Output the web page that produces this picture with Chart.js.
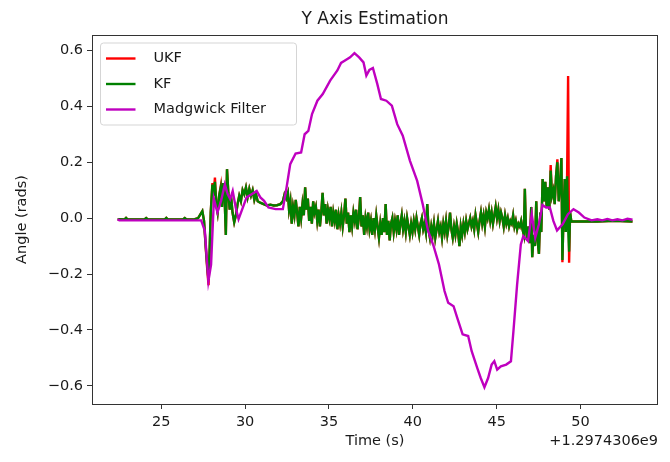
<!DOCTYPE html>
<html>
<head>
<meta charset="utf-8">
<script src="https://cdn.jsdelivr.net/npm/chart.js@4.4.1/dist/chart.umd.min.js"></script>
<style>
  html, body { margin: 0; padding: 0; background: #fff; }
  canvas { display: block; }
</style>
</head>
<body>
<canvas id="yAxisChart" width="670" height="462"></canvas>
<script>
// time stamps shared by the UKF and KF estimates (seconds, offset +1.2974306e9)
const filterTime = [
  22.40, 22.80, 22.90, 23.00, 24.00, 24.10, 24.20, 25.20, 25.30, 25.40,
  26.30, 26.40, 26.50, 27.00, 27.20, 27.35, 27.45, 27.55, 27.65, 27.75,
  27.82, 27.88, 27.95, 28.05, 28.12, 28.20, 28.28, 28.36, 28.45, 28.55,
  28.62, 28.70, 28.78, 28.85, 28.92, 29.00, 29.08, 29.16, 29.25, 29.35,
  29.45, 29.55, 29.65, 29.75, 29.85, 29.95, 30.05, 30.15, 30.25, 30.35,
  30.45, 30.55, 30.65, 30.75, 30.90, 31.10, 31.30, 31.50, 31.70, 31.90,
  32.10, 32.25, 32.35, 32.45, 32.55, 32.62, 32.70, 32.78, 32.86, 32.94,
  33.02, 33.10, 33.18, 33.26, 33.34, 33.42, 33.50, 33.58, 33.66, 33.74,
  33.82, 33.90, 33.98, 34.06, 34.14, 34.22, 34.30, 34.38, 34.46, 34.54,
  34.62, 34.70, 34.78, 34.86, 34.94, 35.02, 35.10, 35.18, 35.26, 35.34,
  35.42, 35.50, 35.58, 35.66, 35.74, 35.82, 35.90, 35.98, 36.06, 36.14,
  36.22, 36.30, 36.38, 36.46, 36.54, 36.62, 36.70, 36.78, 36.86, 36.94,
  37.02, 37.10, 37.18, 37.26, 37.34, 37.42, 37.50, 37.58, 37.66, 37.74,
  37.82, 37.90, 37.98, 38.06, 38.14, 38.22, 38.30, 38.38, 38.46, 38.54,
  38.62, 38.70, 38.78, 38.86, 38.94, 39.02, 39.10, 39.18, 39.26, 39.34,
  39.42, 39.50, 39.58, 39.66, 39.74, 39.82, 39.90, 39.98, 40.06, 40.14,
  40.22, 40.30, 40.38, 40.46, 40.54, 40.62, 40.70, 40.78, 40.86, 40.94,
  41.02, 41.10, 41.18, 41.26, 41.34, 41.42, 41.50, 41.58, 41.66, 41.74,
  41.82, 41.90, 41.98, 42.06, 42.14, 42.22, 42.30, 42.38, 42.46, 42.54,
  42.62, 42.70, 42.78, 42.86, 42.94, 43.02, 43.10, 43.18, 43.26, 43.34,
  43.42, 43.50, 43.58, 43.66, 43.74, 43.82, 43.90, 43.98, 44.06, 44.14,
  44.22, 44.30, 44.38, 44.46, 44.54, 44.62, 44.70, 44.78, 44.86, 44.94,
  45.02, 45.10, 45.18, 45.26, 45.34, 45.42, 45.50, 45.58, 45.66, 45.74,
  45.82, 45.90, 45.98, 46.06, 46.14, 46.22, 46.30, 46.38, 46.46, 46.54,
  46.62, 46.68, 46.74, 46.82, 46.90, 46.98, 47.06, 47.12, 47.20, 47.28,
  47.36, 47.44, 47.52, 47.60, 47.66, 47.74, 47.82, 47.90, 47.98, 48.06,
  48.14, 48.22, 48.30, 48.38, 48.46, 48.54, 48.62, 48.70, 48.78, 48.86,
  48.92, 48.98, 49.06, 49.12, 49.20, 49.26, 49.32, 49.38, 49.45, 50.00,
  51.00, 52.00, 53.10
];

const kfAngle = [
  -0.004, -0.005, 0.001, -0.005, -0.005, 0.000, -0.005, -0.005, 0.001, -0.005,
  -0.005, 0.000, -0.005, -0.004, 0.000, 0.015, 0.025, -0.010, -0.100, -0.180,
  -0.220, -0.120, 0.020, 0.120, 0.080, 0.130, 0.050, 0.020, 0.080, 0.110,
  0.040, 0.125, 0.070, -0.060, 0.175, 0.090, 0.030, 0.080, 0.020, -0.015,
  0.010, 0.050, 0.080, 0.060, 0.100, 0.085, 0.110, 0.075, 0.105, 0.080,
  0.100, 0.065, 0.085, 0.060, 0.055, 0.050, 0.045, 0.048, 0.045, 0.046,
  0.050, 0.060, 0.085, 0.070, 0.090, 0.030, 0.060, -0.020, 0.040, 0.010,
  0.065, 0.020, -0.030, 0.040, 0.000, 0.050, 0.010, 0.110, 0.030, 0.070,
  -0.010, 0.040, -0.020, 0.060, 0.020, 0.040, -0.010, 0.030, -0.030, 0.020,
  0.090, 0.010, 0.050, -0.020, 0.030, 0.000, 0.040, -0.030, 0.020, -0.010,
  0.030, -0.040, 0.010, -0.020, 0.020, -0.030, 0.010, 0.070, -0.020, 0.020,
  -0.050, 0.010, -0.030, 0.020, -0.010, 0.030, -0.040, 0.000, 0.075, -0.030,
  0.010, -0.060, 0.000, -0.030, 0.020, -0.040, -0.010, -0.060, 0.000, -0.040,
  0.010, -0.030, -0.070, -0.020, -0.060, 0.000, -0.050, 0.050, -0.060, -0.010,
  -0.080, -0.020, 0.000, -0.050, -0.010, -0.040, 0.010, -0.060, -0.020, 0.010,
  -0.040, -0.010, -0.050, 0.000, -0.030, -0.060, -0.020, -0.050, -0.010, -0.040,
  0.000, -0.030, -0.060, -0.020, 0.000, -0.040, -0.020, -0.050, 0.050, -0.040,
  -0.070, -0.030, -0.060, -0.020, -0.070, -0.040, -0.010, -0.050, -0.030, -0.070,
  -0.020, -0.050, -0.010, -0.060, -0.030, 0.020, -0.040, -0.070, -0.030, -0.060,
  -0.020, -0.050, -0.100, -0.030, -0.060, -0.020, -0.050, -0.010, -0.040, -0.020,
  0.000, -0.030, -0.010, -0.040, 0.010, -0.020, -0.050, -0.010, 0.020, -0.020,
  0.010, -0.030, 0.020, 0.000, 0.030, -0.010, 0.020, -0.020, 0.010, 0.040,
  0.000, 0.030, -0.010, 0.020, 0.000, -0.030, 0.010, -0.020, 0.000, -0.030,
  -0.010, -0.020, 0.010, -0.030, -0.010, -0.040, -0.020, -0.030, -0.010, -0.040,
  -0.060, 0.105, -0.030, -0.080, -0.030, -0.090, 0.040, -0.140, -0.060, -0.100,
  0.060, -0.080, -0.128, 0.020, -0.050, 0.140, 0.060, 0.130, 0.040, 0.110,
  0.030, 0.170, 0.080, 0.100, 0.050, 0.150, 0.200, 0.060, 0.120, 0.215,
  -0.150, 0.000, 0.140, -0.050, 0.150, -0.030, -0.120, 0.020, -0.012, -0.012,
  -0.012, -0.010, -0.012
];

const ukfAngle = [
  -0.004, -0.005, 0.001, -0.005, -0.005, 0.000, -0.005, -0.005, 0.001, -0.005,
  -0.005, 0.000, -0.005, -0.004, 0.000, 0.015, 0.025, -0.010, -0.105, -0.190,
  -0.240, -0.125, 0.020, 0.125, 0.080, 0.145, 0.050, 0.020, 0.080, 0.115,
  0.040, 0.125, 0.070, -0.060, 0.175, 0.090, 0.030, 0.080, 0.020, -0.015,
  0.010, 0.050, 0.080, 0.060, 0.100, 0.085, 0.110, 0.075, 0.105, 0.080,
  0.100, 0.065, 0.085, 0.060, 0.055, 0.050, 0.045, 0.048, 0.045, 0.046,
  0.050, 0.060, 0.085, 0.070, 0.090, 0.030, 0.060, -0.020, 0.040, 0.010,
  0.065, 0.020, -0.030, 0.040, 0.000, 0.050, 0.010, 0.110, 0.030, 0.070,
  -0.010, 0.040, -0.020, 0.060, 0.020, 0.040, -0.010, 0.030, -0.030, 0.020,
  0.090, 0.010, 0.050, -0.020, 0.030, 0.000, 0.040, -0.030, 0.020, -0.010,
  0.030, -0.040, 0.010, -0.020, 0.020, -0.030, 0.010, 0.070, -0.020, 0.020,
  -0.050, 0.010, -0.030, 0.020, -0.010, 0.030, -0.040, 0.000, 0.075, -0.030,
  0.010, -0.060, 0.000, -0.030, 0.020, -0.040, -0.010, -0.060, 0.000, -0.040,
  0.010, -0.030, -0.070, -0.020, -0.060, 0.000, -0.050, 0.050, -0.060, -0.010,
  -0.080, -0.020, 0.000, -0.050, -0.010, -0.040, 0.010, -0.060, -0.020, 0.010,
  -0.040, -0.010, -0.050, 0.000, -0.030, -0.060, -0.020, -0.050, -0.010, -0.040,
  0.000, -0.030, -0.060, -0.020, 0.000, -0.040, -0.020, -0.050, 0.050, -0.040,
  -0.070, -0.030, -0.060, -0.020, -0.070, -0.040, -0.010, -0.050, -0.030, -0.070,
  -0.020, -0.050, -0.010, -0.060, -0.030, 0.020, -0.040, -0.070, -0.030, -0.060,
  -0.020, -0.050, -0.100, -0.030, -0.060, -0.020, -0.050, -0.010, -0.040, -0.020,
  0.000, -0.030, -0.010, -0.040, 0.010, -0.020, -0.050, -0.010, 0.020, -0.020,
  0.010, -0.030, 0.020, 0.000, 0.030, -0.010, 0.020, -0.020, 0.010, 0.040,
  0.000, 0.030, -0.010, 0.020, 0.000, -0.030, 0.010, -0.020, 0.000, -0.030,
  -0.010, -0.020, 0.010, -0.030, -0.010, -0.040, -0.020, -0.030, -0.010, -0.040,
  -0.060, 0.105, -0.030, -0.080, -0.030, -0.090, 0.040, -0.140, -0.060, -0.100,
  0.060, -0.080, -0.128, 0.020, -0.050, 0.140, 0.060, 0.130, 0.040, 0.110,
  0.030, 0.190, 0.080, 0.100, 0.050, 0.150, 0.210, 0.060, 0.120, 0.215,
  -0.158, 0.000, 0.140, -0.050, 0.150, 0.508, -0.160, 0.020, -0.012, -0.012,
  -0.012, -0.010, -0.012
];

// Madgwick filter output, smoother so fewer samples
const madgwickTime = [
  22.40, 22.50, 27.38, 27.60, 27.81, 27.97, 28.14, 28.35, 28.57, 28.79,
  28.96, 29.11, 29.26, 29.44, 29.61, 29.83, 30.09, 30.41, 30.69, 30.91,
  31.13, 31.39, 31.82, 32.25, 32.47, 32.69, 33.01, 33.34, 33.55, 33.77,
  33.99, 34.31, 34.63, 35.07, 35.50, 35.72, 35.93, 36.26, 36.52, 36.80,
  37.06, 37.23, 37.41, 37.62, 37.88, 38.10, 38.42, 38.75, 39.07, 39.40,
  39.83, 40.26, 40.59, 40.91, 41.24, 41.56, 41.89, 42.11, 42.43, 42.65,
  42.97, 43.30, 43.51, 43.84, 44.05, 44.27, 44.49, 44.70, 44.86, 45.03,
  45.25, 45.57, 45.85, 46.00, 46.22, 46.44, 46.59, 46.87, 47.09, 47.30,
  47.52, 47.73, 47.95, 48.17, 48.38, 48.60, 48.93, 49.25, 49.58, 49.90,
  50.23, 50.66, 51.00, 51.30, 51.60, 51.90, 52.20, 52.50, 52.80, 53.10
];

const madgwickAngle = [
  -0.004, -0.008, -0.008, -0.046, -0.225, -0.166, 0.068, 0.020, 0.062, 0.121,
  0.086, 0.068, 0.097, 0.038, -0.004, 0.032, 0.074, 0.086, 0.097, 0.074,
  0.062, 0.038, 0.032, 0.032, 0.109, 0.193, 0.231, 0.235, 0.300, 0.312,
  0.372, 0.420, 0.444, 0.492, 0.528, 0.555, 0.563, 0.575, 0.590, 0.575,
  0.557, 0.510, 0.530, 0.537, 0.480, 0.426, 0.420, 0.402, 0.336, 0.295,
  0.205, 0.133, 0.050, -0.046, -0.100, -0.166, -0.261, -0.303, -0.315, -0.357,
  -0.416, -0.422, -0.476, -0.536, -0.572, -0.605, -0.572, -0.524, -0.512, -0.542,
  -0.530, -0.524, -0.512, -0.404, -0.237, -0.094, -0.064, -0.082, 0.014, -0.070,
  -0.022, 0.047, 0.038, 0.038, -0.010, -0.044, -0.022, 0.014, 0.032, 0.020,
  0.002, -0.008, -0.004, -0.008, -0.003, -0.008, -0.004, -0.008, -0.002, -0.006
];

const seriesNames = ['UKF', 'KF', 'Madgwick Filter'];
const seriesColors = ['#ff0000', '#008000', '#bf00bf'];
const xTicks = [25, 30, 35, 40, 45, 50];
const yTicks = [-0.6, -0.4, -0.2, 0.0, 0.2, 0.4, 0.6];
const timeOffsetLabel = '+1.2974306e9';

const textColor = '#1a1a1a';
const fontSize = 14.5;
const lineWidth = 2.4;
Chart.defaults.font.family = "'DejaVu Sans', sans-serif";
Chart.defaults.color = textColor;

function toPoints(times, values) {
  return times.map((t, i) => ({ x: t, y: values[i] }));
}

// rounded legend box inside the axes, like matplotlib's default
const boxLegend = {
  id: 'boxLegend',
  afterDraw(chart) {
    const ctx = chart.ctx;
    const area = chart.chartArea;
    const x = area.left + 8.5, y = area.top + 8, w = 196, h = 82, r = 3;
    ctx.save();
    ctx.beginPath();
    ctx.moveTo(x + r, y);
    ctx.arcTo(x + w, y, x + w, y + h, r);
    ctx.arcTo(x + w, y + h, x, y + h, r);
    ctx.arcTo(x, y + h, x, y, r);
    ctx.arcTo(x, y, x + w, y, r);
    ctx.closePath();
    ctx.fillStyle = 'rgba(255,255,255,0.8)';
    ctx.fill();
    ctx.strokeStyle = '#d5d5d5';
    ctx.lineWidth = 1;
    ctx.stroke();
    ctx.font = fontSize + "px 'DejaVu Sans'";
    ctx.textBaseline = 'middle';
    ctx.textAlign = 'left';
    seriesNames.forEach((name, i) => {
      const ly = y + 15.5 + i * 25.5;
      ctx.strokeStyle = seriesColors[i];
      ctx.lineWidth = lineWidth;
      ctx.beginPath();
      ctx.moveTo(x + 5.5, ly);
      ctx.lineTo(x + 35, ly);
      ctx.stroke();
      ctx.fillStyle = textColor;
      ctx.fillText(name, x + 53, ly);
    });
    ctx.restore();
  }
};

// axes frame on top of the lines, plus the offset text under the x axis
const frameAndOffset = {
  id: 'frameAndOffset',
  afterDatasetsDraw(chart) {
    const { ctx, chartArea: a } = chart;
    ctx.save();
    ctx.strokeStyle = '#333';
    ctx.lineWidth = 1;
    ctx.strokeRect(a.left + 0.5, a.top + 0.5, a.right - a.left - 1, a.bottom - a.top);
    ctx.restore();
  },
  afterDraw(chart) {
    const { ctx, chartArea: a } = chart;
    ctx.save();
    ctx.font = fontSize + "px 'DejaVu Sans'";
    ctx.fillStyle = textColor;
    ctx.textAlign = 'right';
    ctx.textBaseline = 'middle';
    ctx.fillText(timeOffsetLabel, a.right, 441);
    ctx.restore();
  }
};

const angles = [ukfAngle, kfAngle, madgwickAngle];
const times = [filterTime, filterTime, madgwickTime];

const ctx = document.getElementById('yAxisChart').getContext('2d');
const yAxisChart = new Chart(ctx, {
  type: 'line',
  data: {
    datasets: seriesNames.map((name, i) => ({
      label: name,
      data: toPoints(times[i], angles[i]),
      borderColor: seriesColors[i],
      backgroundColor: seriesColors[i],
      borderWidth: lineWidth,
      pointRadius: 0,
      tension: 0,
      fill: false,
      order: 3 - i // later series drawn on top
    }))
  },
  options: {
    responsive: false,
    animation: false,
    devicePixelRatio: 1,
    events: [],
    layout: { padding: { left: 0, right: 12, top: 0, bottom: 0 } },
    plugins: {
      legend: { display: false },
      tooltip: { enabled: false },
      title: {
        display: true,
        fullSize: false,
        text: 'Y Axis Estimation',
        color: textColor,
        font: { size: 17, weight: 'normal' },
        padding: { top: 9, bottom: 5.6 }
      }
    },
    scales: {
      x: {
        type: 'linear',
        min: 20.87,
        max: 54.62,
        afterBuildTicks: scale => { scale.ticks = xTicks.map(v => ({ value: v })); },
        afterFit: scale => { scale.height = 58; },
        border: { display: false },
        grid: { drawOnChartArea: false, drawTicks: true, tickLength: 5, tickColor: '#333' },
        ticks: {
          autoSkip: false,
          maxRotation: 0,
          padding: 5,
          color: textColor,
          font: { size: fontSize },
          callback: v => String(v)
        },
        title: {
          display: true,
          text: 'Time (s)',
          color: textColor,
          font: { size: fontSize },
          padding: { top: 0, bottom: 12.3 }
        }
      },
      y: {
        type: 'linear',
        min: -0.665,
        max: 0.655,
        afterBuildTicks: scale => { scale.ticks = yTicks.map(v => ({ value: v })); },
        afterFit: scale => { scale.width = 92; },
        border: { display: false },
        grid: { drawOnChartArea: false, drawTicks: true, tickLength: 5, tickColor: '#333' },
        ticks: {
          padding: 4,
          color: textColor,
          font: { size: fontSize },
          callback: v => (v < 0 ? '\u2212' : '') + Math.abs(v).toFixed(1)
        },
        title: {
          display: true,
          text: 'Angle (rads)',
          color: textColor,
          font: { size: fontSize },
          padding: { top: 13.3, bottom: 0 }
        }
      }
    }
  },
  plugins: [frameAndOffset, boxLegend]
});
</script>
</body>
</html>
